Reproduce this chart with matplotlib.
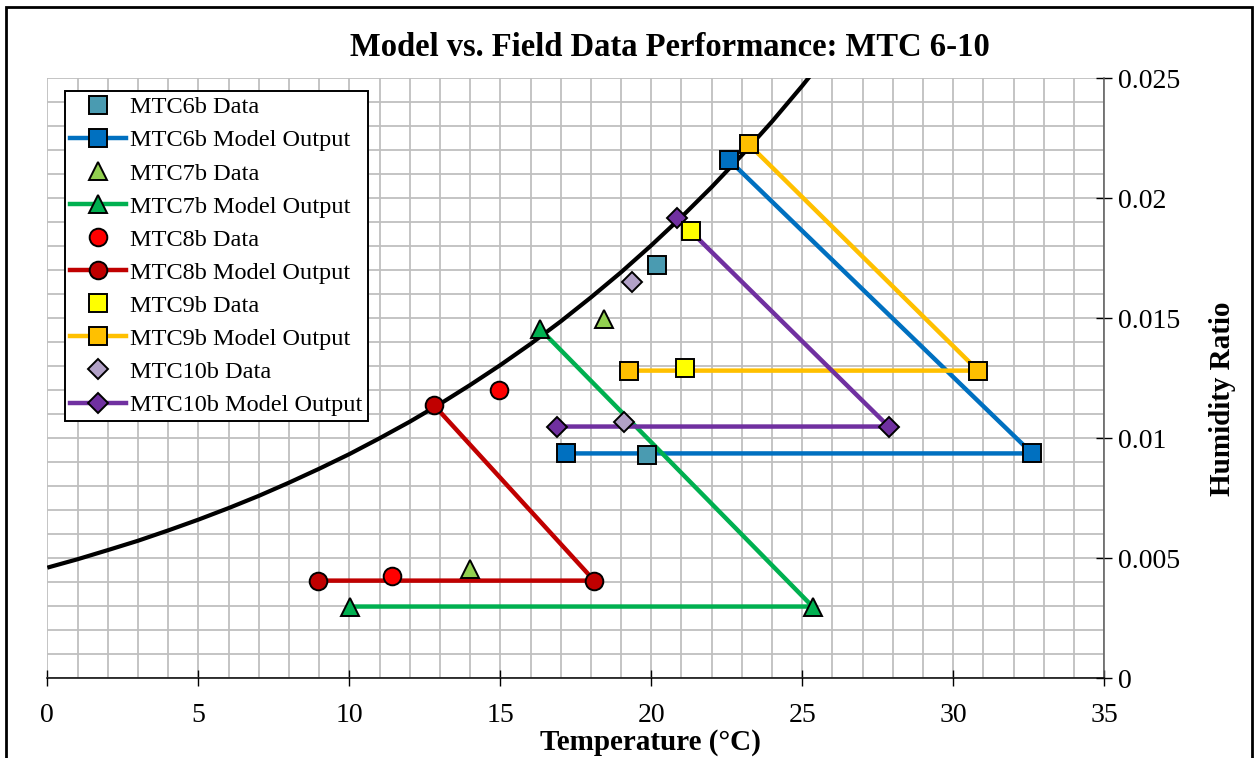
import matplotlib
matplotlib.use("Agg")
import matplotlib.pyplot as plt
from matplotlib.patches import Rectangle
from matplotlib.ticker import MultipleLocator, FuncFormatter

plt.rcParams['font.family'] = ['Liberation Serif', 'DejaVu Serif']

# Saturation line (humidity ratio at saturation), one reading per degree C
sat_temp = [0, 1, 2, 3, 4, 5, 6, 7, 8, 9, 10, 11, 12, 13,
            14, 15, 16, 17, 18, 19, 20, 21, 22, 23, 24, 25, 26]
sat_w = [0.00461, 0.00496, 0.00534, 0.00573, 0.00616, 0.00661, 0.00709,
         0.00760, 0.00815, 0.00873, 0.00934, 0.01000, 0.01069, 0.01143,
         0.01222, 0.01305, 0.01393, 0.01487, 0.01587, 0.01692, 0.01804,
         0.01922, 0.02047, 0.02180, 0.02320, 0.02469, 0.02627]

# Field data (two measured states per unit)
mtc6_data_t = [20.20, 19.85]
mtc6_data_w = [0.01721, 0.00931]
mtc7_data_t = [18.45, 14.00]
mtc7_data_w = [0.01496, 0.00454]
mtc8_data_t = [14.95, 11.40]
mtc8_data_w = [0.01201, 0.00426]
mtc9_data_t = [21.32, 21.12]
mtc9_data_w = [0.01865, 0.01292]
mtc10_data_t = [19.37, 19.08]
mtc10_data_w = [0.01650, 0.01069]

# Model output (saturated point -> supply -> return)
mtc6_model_t = [22.57, 32.61, 17.19]
mtc6_model_w = [0.02160, 0.00937, 0.00937]
mtc7_model_t = [16.32, 25.34, 10.01]
mtc7_model_w = [0.01455, 0.00299, 0.00299]
mtc8_model_t = [12.81, 18.11, 8.95]
mtc8_model_w = [0.01137, 0.00407, 0.00407]
mtc9_model_t = [23.22, 30.82, 19.26]
mtc9_model_w = [0.02226, 0.01282, 0.01282]
mtc10_model_t = [20.85, 27.86, 16.87]
mtc10_model_w = [0.01919, 0.01049, 0.01049]

W, H = 1254, 758
fig = plt.figure(figsize=(W / 100, H / 100), dpi=100)
ax = fig.add_axes([47.3 / W, 1 - 678.3 / H, (1104.3 - 47.3) / W, 600 / H])

ax.set_xlim(0, 35)
ax.set_ylim(0, 0.025)

# grid
ax.xaxis.set_major_locator(MultipleLocator(5))
ax.xaxis.set_minor_locator(MultipleLocator(1))
ax.yaxis.set_major_locator(MultipleLocator(0.005))
ax.yaxis.set_minor_locator(MultipleLocator(0.001))
ax.grid(True, which='both', color='#bfbfbf', linewidth=1.3, zorder=0)
ax.set_axisbelow(True)

ax.spines['top'].set_visible(False)
ax.spines['left'].set_visible(False)
ax.spines['bottom'].set_color('black')
ax.spines['bottom'].set_linewidth(1.1)
ax.spines['right'].set_color('#595959')
ax.spines['right'].set_linewidth(1.1)

ax.yaxis.tick_right()
ax.yaxis.set_major_formatter(FuncFormatter(lambda v, p: f"{v:g}" if abs(v) > 1e-12 else "0"))
ax.tick_params(axis='both', which='major', direction='inout', length=12, width=1.0,
               labelsize=20, colors='black')
ax.tick_params(axis='x', which='major', pad=12)
ax.tick_params(axis='y', which='major', pad=4)
ax.tick_params(axis='both', which='minor', length=0)

# saturation curve
ax.plot(sat_temp, sat_w, color='black', linewidth=3, zorder=2, solid_capstyle='butt')

edge = dict(markeredgecolor='black', markeredgewidth=1.4)
sq, tri, cir, dia = 13.6, 13.5, 12.7, 10.2
series = [
    (mtc6_data_t, mtc6_data_w, None, '#4A9BB1', 's', sq, 'MTC6b Data'),
    (mtc6_model_t, mtc6_model_w, '#0070C0', '#0070C0', 's', sq, 'MTC6b Model Output'),
    (mtc7_data_t, mtc7_data_w, None, '#92D050', '^', tri, 'MTC7b Data'),
    (mtc7_model_t, mtc7_model_w, '#00B050', '#00B050', '^', tri, 'MTC7b Model Output'),
    (mtc8_data_t, mtc8_data_w, None, '#FF0000', 'o', cir, 'MTC8b Data'),
    (mtc8_model_t, mtc8_model_w, '#C00000', '#C00000', 'o', cir, 'MTC8b Model Output'),
    (mtc9_data_t, mtc9_data_w, None, '#FFFF00', 's', sq, 'MTC9b Data'),
    (mtc9_model_t, mtc9_model_w, '#FFC000', '#FFC000', 's', sq, 'MTC9b Model Output'),
    (mtc10_data_t, mtc10_data_w, None, '#B2A1C7', 'D', dia, 'MTC10b Data'),
    (mtc10_model_t, mtc10_model_w, '#7030A0', '#7030A0', 'D', dia, 'MTC10b Model Output'),
]
handles = []
for t, w, lc, fc, mk, ms, label in series:
    if lc is None:
        h, = ax.plot(t, w, linestyle='none', marker=mk, markersize=ms,
                     markerfacecolor=fc, zorder=5, label=label, **edge)
    else:
        h, = ax.plot(t, w, color=lc, linewidth=3.2, marker=mk, markersize=ms,
                     markerfacecolor=fc, zorder=4, label=label, **edge)
    handles.append(h)

leg = fig.legend(handles=handles, loc='upper left',
                 bbox_to_anchor=(65 / W, 1 - 91 / H), fontsize=17.5,
                 frameon=True, fancybox=False, framealpha=1, edgecolor='black',
                 handlelength=2.3, handletextpad=0.15, labelspacing=0.455,
                 borderpad=0.22, borderaxespad=0)
leg.get_frame().set_linewidth(1.4)

fig.text(670 / W, 1 - 47 / H, 'Model vs. Field Data Performance: MTC 6-10',
         ha='center', va='center', fontsize=23.5, fontweight='bold')
fig.text(650 / W, 1 - 743 / H, 'Temperature (°C)', ha='center', va='center',
         fontsize=21, fontweight='bold')
fig.text(1222 / W, 1 - 399 / H, 'Humidity Ratio', ha='center', va='center',
         rotation=90, fontsize=21, fontweight='bold')

# chart border
fig.patches.append(Rectangle((5.7 / W, -0.05), (1252 - 5.7) / W, 1.05 - 6.7 / H,
                             transform=fig.transFigure, fill=False,
                             edgecolor='black', linewidth=2, zorder=10))

fig.savefig('out.png', dpi=100)
